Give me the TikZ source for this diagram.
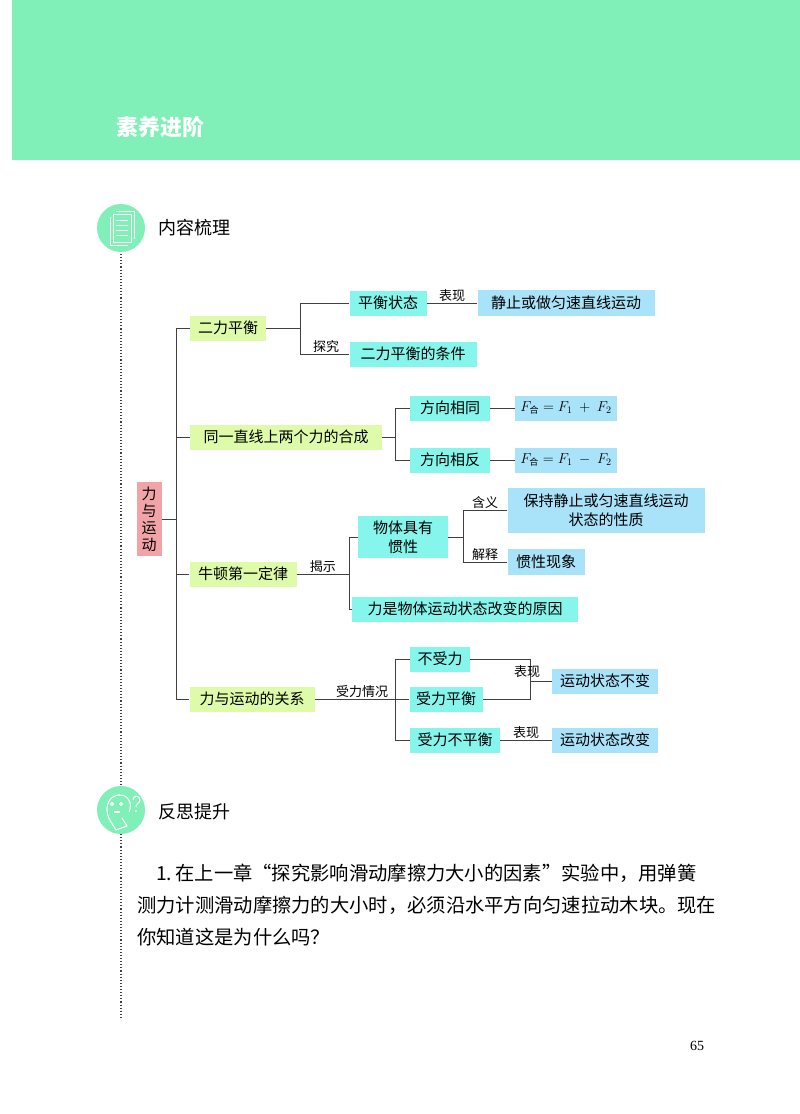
\documentclass[tikz,border=0pt]{standalone}
\usepackage{fontspec}
\newfontfamily\cjk{Noto Sans CJK SC}
\setmainfont{Liberation Serif}
\begin{document}
\begin{tikzpicture}[x=1pt,y=-1pt,
  base/.style={inner sep=0pt,font=\cjk\fontsize{15}{17}\selectfont},
  gbox/.style={base,fill=grn},
  cbox/.style={base,fill=cyn},
  bbox/.style={base,fill=blu},
  lab/.style={font=\cjk\fontsize{13}{15}\selectfont,inner sep=1pt},
  ln/.style={draw=black!75,line width=0.9pt}]
\definecolor{mint}{HTML}{80EFB8}
\definecolor{grn}{HTML}{DDFBA8}
\definecolor{cyn}{HTML}{86F5EC}
\definecolor{blu}{HTML}{A9E3FA}
\definecolor{pnk}{HTML}{F2A3A8}
\useasboundingbox (0,0) rectangle (800,1114);
\fill[white] (0,0) rectangle (800,1114);
\fill[mint] (12,0) rectangle (800,160);
\node[anchor=west,text=white,font=\cjk\bfseries\fontsize{22}{24}\selectfont] (title) at (113,127) {素养进阶};
% section 1 icon
\fill[mint] (121,228) circle (24);
\begin{scope}[draw=white,line width=0.9pt]
\draw (113,214) rectangle (131,242);
\draw (110,217) -- (110,245) -- (128,245);
\draw (116,211) -- (134,211) -- (134,239);
\foreach \yy in {220,225,230,235} \draw (116,\yy) -- (128,\yy);
\end{scope}
\node[anchor=west,font=\cjk\fontsize{18}{20}\selectfont] (s1) at (155,228) {内容梳理};
\draw[black!75,dotted,line width=1.1pt] (121,254) -- (121,788);
\draw[black!75,dotted,line width=1.1pt] (121,834) -- (121,1018);
% section 2 icon
\fill[mint] (121,810) circle (24);
\begin{scope}[draw=white,line width=1.1pt]
\draw (111,822) .. controls (104,812) and (106,797) .. (118,795) .. controls (128,794) and (133,803) .. (129,812);
\draw (112,804) circle (1.5) (121,804) circle (1.5);
\draw (114,812) -- (120,812);
\draw (111,822) -- (116,830) -- (127,826) -- (122,818);
\draw (133,800) .. controls (133,795) and (140,795) .. (140,800) .. controls (140,803) and (136,803) .. (136,807);
\fill[white] (136,811) circle (1);
\end{scope}
\node[anchor=west,font=\cjk\fontsize{18}{20}\selectfont] (s2) at (155,812) {反思提升};
% root
\node[base,fill=pnk,minimum width=25pt,minimum height=74pt,align=center,font=\cjk\fontsize{15}{17}\selectfont] (root) at (149,519) {力\\与\\运\\动};
% level 1
\node[gbox,minimum width=76pt,minimum height=25pt] (a) at (228,328) {二力平衡};
\node[gbox,minimum width=192pt,minimum height=25pt] (b) at (286,437) {同一直线上两个力的合成};
\node[gbox,minimum width=107pt,minimum height=25pt] (c) at (243,574) {牛顿第一定律};
\node[gbox,minimum width=125pt,minimum height=25pt] (d) at (252,699) {力与运动的关系};
\coordinate (t0) at (176,519);
\draw[ln] (root.east) -- (t0);
\draw[ln] (a.west) -- (176,328) -- (176,699) -- (d.west);
\draw[ln] (b.west) -- (176,437);
\draw[ln] (c.west) -- (176,574);
% branch a
\node[cbox,minimum width=77pt,minimum height=25pt] (a1) at (388,303) {平衡状态};
\node[bbox,minimum width=177pt,minimum height=26pt] (a11) at (566,303) {静止或做匀速直线运动};
\node[cbox,minimum width=127pt,minimum height=25pt] (a2) at (413,354) {二力平衡的条件};
\draw[ln] (a.east) -- (300,328);
\draw[ln] (a1.west) -| (300,354) -- (a2.west);
\draw[ln] (a1.east) -- (a11.west) node[lab,midway,above] {表现};
\node[lab,anchor=south] (l1) at (326,354) {探究};
% branch b
\node[cbox,minimum width=80pt,minimum height=25pt] (b1) at (450,408) {方向相同};
\node[cbox,minimum width=80pt,minimum height=25pt] (b2) at (450,460) {方向相反};
\node[bbox,minimum width=102pt,minimum height=25pt,font=\fontsize{14}{16}\selectfont] (b11) at (566,408) {$F_{\mbox{\cjk\fontsize{9}{10}\selectfont 合}}=F_1\ +\ F_2$};
\node[bbox,minimum width=102pt,minimum height=25pt,font=\fontsize{14}{16}\selectfont] (b21) at (566,460) {$F_{\mbox{\cjk\fontsize{9}{10}\selectfont 合}}=F_1\ -\ F_2$};
\draw[ln] (b.east) -- (395,437);
\draw[ln] (b1.west) -| (395,460) -- (b2.west);
\draw[ln] (b1.east) -- (b11.west);
\draw[ln] (b2.east) -- (b21.west);
% branch c
\node[cbox,minimum width=90pt,minimum height=42pt,align=center,font=\cjk\fontsize{15}{19}\selectfont] (c1) at (403,537) {物体具有\\惯性};
\node[bbox,minimum width=197pt,minimum height=45pt,align=center,font=\cjk\fontsize{15}{19}\selectfont] (c11) at (606,510) {保持静止或匀速直线运动\\状态的性质};
\node[bbox,minimum width=77pt,minimum height=26pt] (c12) at (546,562) {惯性现象};
\node[cbox,minimum width=226pt,minimum height=25pt] (c2) at (465,609) {力是物体运动状态改变的原因};
\draw[ln] (c.east) -- (349,574) node[lab,midway,above] {揭示};
\draw[ln] (c1.west) -| (349,609) -- (c2.west);
\draw[ln] (c1.east) -- (463,537);
\draw[ln] (c11.west) -| (463,562) -- (c12.west);
\node[lab,anchor=south] (l2) at (485,510) {含义};
\node[lab,anchor=south] (l3) at (485,562) {解释};
% branch d
\node[cbox,minimum width=60pt,minimum height=25pt] (d1) at (440,659) {不受力};
\node[cbox,minimum width=73pt,minimum height=25pt] (d2) at (446,699) {受力平衡};
\node[cbox,minimum width=90pt,minimum height=25pt] (d3) at (455,740) {受力不平衡};
\node[bbox,minimum width=106pt,minimum height=25pt] (d4) at (605,681) {运动状态不变};
\node[bbox,minimum width=106pt,minimum height=25pt] (d5) at (605,740) {运动状态改变};
\draw[ln] (d.east) -- (d2.west) node[lab,pos=0.5,above] {受力情况};
\draw[ln] (d1.west) -| (395,740) -- (d3.west);
\draw[ln] (d1.east) -| (530,699) -- (d2.east);
\draw[ln] (530,681) -- (d4.west);
\node[lab,anchor=south] (l4) at (527,679) {表现};
\draw[ln] (d3.east) -- (d5.west) node[lab,midway,above] {表现};
% paragraph
\begin{scope}[every node/.style={anchor=west,inner sep=0pt,font=\cjk\fontsize{19.3}{21}\selectfont}]
\node (p1) at (156,873) {1.\,在上一章“探究影响滑动摩擦力大小的因素”实验中，用弹簧};
\node (p2) at (137,905) {测力计测滑动摩擦力的大小时，必须沿水平方向匀速拉动木块。现在};
\node (p3) at (137,937) {你知道这是为什么吗？};
\end{scope}
\node[font=\fontsize{14}{16}\selectfont] (pg) at (697,1046) {65};
\end{tikzpicture}
\end{document}
